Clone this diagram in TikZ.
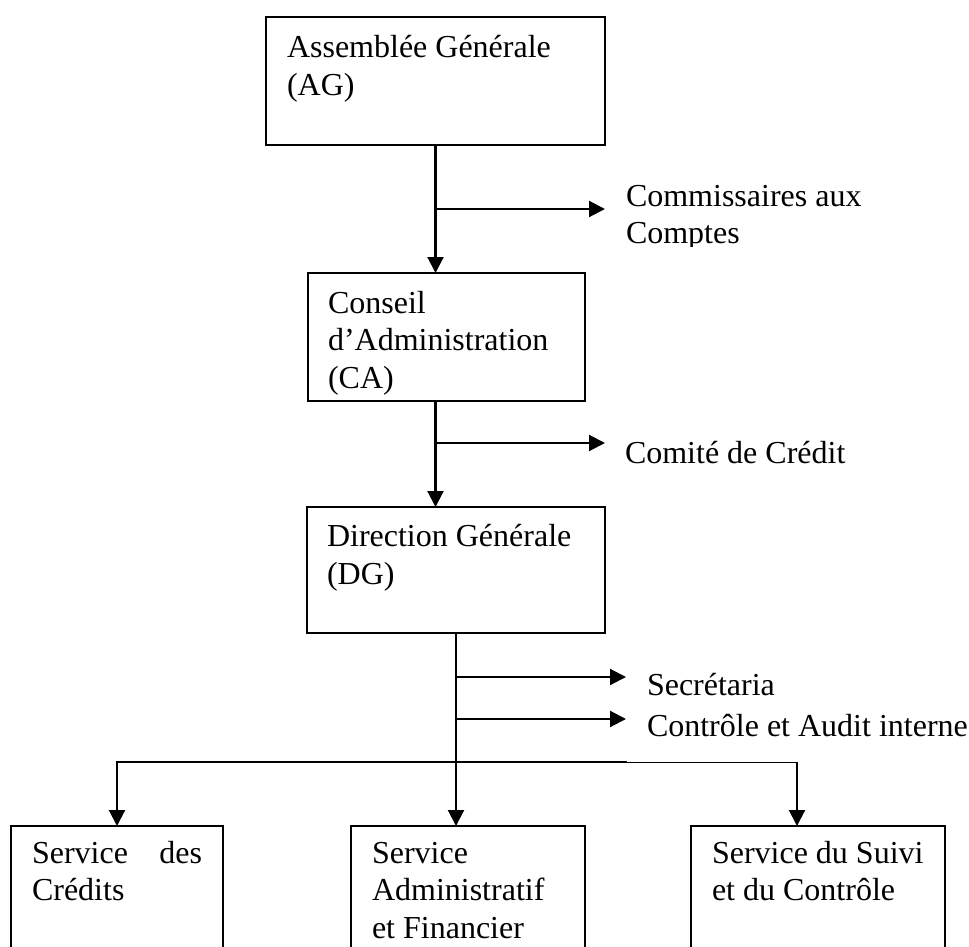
\documentclass[tikz,border=0pt]{standalone}
\usepackage{fontspec}
\setmainfont{Liberation Serif}
\usetikzlibrary{arrows.meta}
\begin{document}
\begin{tikzpicture}[x=1pt,y=-1pt,
  box/.style={draw, line width=1.9pt, inner sep=0pt, outer sep=0pt, anchor=north west},
  txt/.style={anchor=base west, inner sep=0pt, outer sep=0pt, font=\fontsize{32}{37.5}\selectfont},
  conn/.style={line width=2.1pt},
  thinconn/.style={line width=1pt},
  arr/.style={conn, -{Triangle[length=16pt,width=16pt]}}
]
\clip (0,0) rectangle (969,947);
% boxes
\node[box, minimum width=339pt, minimum height=128pt] (ag) at (266,17) {};
\node[box, minimum width=277pt, minimum height=128pt] (ca) at (308,273) {};
\node[box, minimum width=298pt, minimum height=126pt] (dg) at (307,507) {};
\node[box, minimum width=212pt, minimum height=160pt] (s1) at (11,826) {};
\node[box, minimum width=234pt, minimum height=160pt] (s2) at (351,826) {};
\node[box, minimum width=254pt, minimum height=160pt] (s3) at (691,826) {};
% box texts
\node[txt] (ag1) at (287,58) {Assemblée Générale};
\node[txt] (ag2) at (287,96) {(AG)};
\node[txt] (ca1) at (328,313) {Conseil};
\node[txt] (ca2) at (328,350.5) {d’Administration};
\node[txt] (ca3) at (328,388) {(CA)};
\node[txt] (dg1) at (327,546) {Direction Générale};
\node[txt] (dg2) at (327,584) {(DG)};
\node[txt] (s1a) at (32,863) {\makebox[170pt][s]{Service\hfill des}};
\node[txt] (s1b) at (32,900.5) {Crédits};
\node[txt] (s2a) at (372,863) {Service};
\node[txt] (s2b) at (372,900.5) {Administratif};
\node[txt] (s2c) at (372,938) {et Financier};
\node[txt] (s3a) at (712,863) {Service du Suivi};
\node[txt] (s3b) at (712,900.5) {et du Contrôle};
% side texts
\node[txt] (cc1) at (626,206) {Commissaires aux};
\begin{scope}
\clip (600,215) rectangle (969,246);
\node[txt] (cc2) at (626,243) {Comptes};
\end{scope}
\node[txt] (cr) at (625,463) {Comité de Crédit};
\node[txt] (se) at (647,695) {Secrétaria};
\node[txt] (au) at (647,736) {Contrôle et Audit interne};
% junctions and free ends
\coordinate (j1) at (435.5,209);
\coordinate (e1) at (605,209);
\coordinate (j2) at (435.5,443);
\coordinate (e2) at (605,443);
\coordinate (j3) at (456,677);
\coordinate (e3) at (626,677);
\coordinate (j4) at (456,719);
\coordinate (e4) at (626,719);
\coordinate (bl) at (117,762);
\coordinate (bm) at (627,762);
\coordinate (br) at (797,762);
% connectors
\draw[arr] (ag.south) -- (ag.south |- ca.north);
\draw[arr] (j1) -- (e1);
\draw[arr] (ag.south |- ca.south) -- (ag.south |- dg.north);
\draw[arr] (j2) -- (e2);
\draw[arr] (dg.south) -- (dg.south |- s2.north);
\draw[arr] (j3) -- (e3);
\draw[arr] (j4) -- (e4);
\draw[arr] (bm) -- (bl) -- (bl |- s1.north);
\draw[thinconn] (bm) -- (br);
\draw[arr] ([yshift=0.5pt]br) -- (br |- s3.north);
\end{tikzpicture}
\end{document}
